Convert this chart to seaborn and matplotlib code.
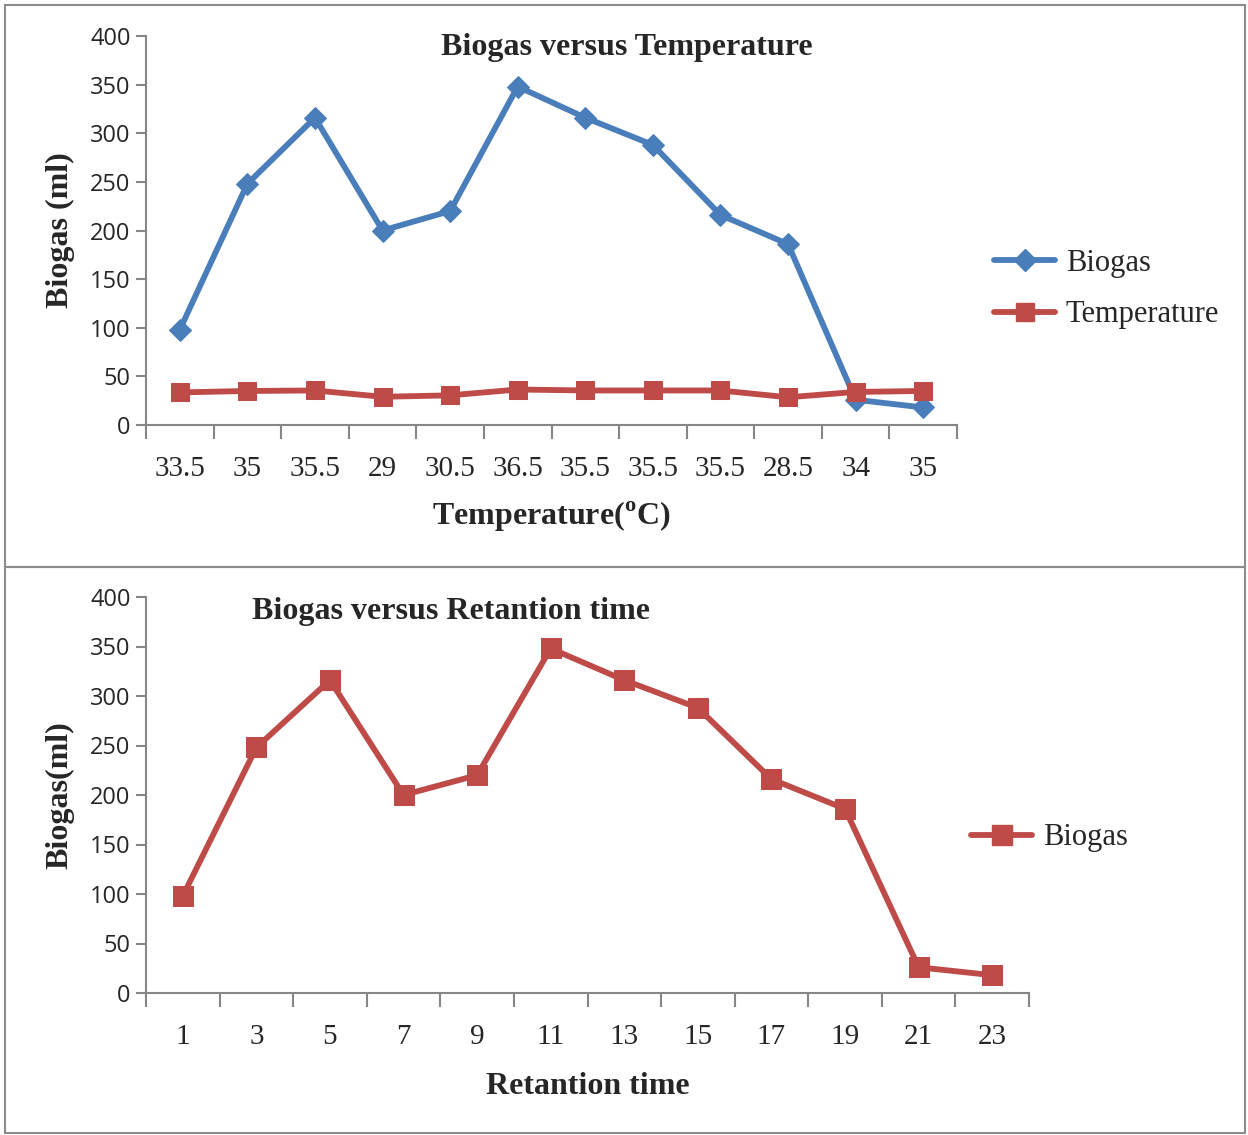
import matplotlib
matplotlib.use("Agg")
import matplotlib.pyplot as plt
import seaborn as sns
import pandas as pd
import numpy as np
from matplotlib.patches import Rectangle
from matplotlib.lines import Line2D

temperature_labels = ["33.5", "35", "35.5", "29", "30.5", "36.5", "35.5", "35.5", "35.5", "28.5", "34", "35"]
temperature_values = [33.5, 35, 35.5, 29, 30.5, 36.5, 35.5, 35.5, 35.5, 28.5, 34, 35]
biogas_values = [98, 248, 316, 200, 220, 348, 316, 288, 216, 186, 26, 18]
retention_labels = ["1", "3", "5", "7", "9", "11", "13", "15", "17", "19", "21", "23"]

sns.set_theme(style="white")
plt.rcParams['font.family'] = ['Liberation Serif', 'DejaVu Serif']
plt.rcParams['mathtext.fontset'] = 'custom'
plt.rcParams['mathtext.rm'] = 'Liberation Serif'
plt.rcParams['mathtext.bf'] = 'Liberation Serif:bold'

W, H = 1248, 1135
fig = plt.figure(figsize=(W / 100, H / 100), dpi=100)

BLUE = "#4A7EBB"
RED = "#BE4B48"
SPINE = "#868686"
LW = 4.2

def px(x0, y0, x1, y1):
    return [x0 / W, 1 - y1 / H, (x1 - x0) / W, (y1 - y0) / H]

# panel frames
for (y0, y1) in [(5, 567), (567, 1133)]:
    fig.patches.append(Rectangle((5 / W, 1 - y1 / H), 1240 / W, (y1 - y0) / H,
                                 transform=fig.transFigure, fill=False,
                                 edgecolor="#8c8c8c", linewidth=1.5))

def style_axes(ax, n):
    ax.set_xlim(-0.5, n - 0.5)
    ax.set_ylim(0, 400)
    ax.set_yticks(range(0, 401, 50))
    ax.set_xticks(np.arange(n))
    ax.set_xticks(np.arange(-0.5, n), minor=True)
    for s in ["top", "right"]:
        ax.spines[s].set_visible(False)
    for s in ["left", "bottom"]:
        ax.spines[s].set_color(SPINE)
        ax.spines[s].set_linewidth(1.5)
    ax.tick_params(axis="y", which="major", left=True, length=7, width=1.5,
                   color=SPINE, labelsize=17, pad=4)
    ax.tick_params(axis="x", which="major", bottom=False, labelsize=21, pad=16)
    ax.tick_params(axis="x", which="minor", bottom=True, length=10, width=1.5,
                   color=SPINE)
    for lab in ax.get_yticklabels():
        lab.set_fontfamily(["Open Sans", "DejaVu Sans"])
    ax.grid(False)

# ---- top chart ----
ax1 = fig.add_axes(px(146, 36, 957, 425))
df1 = pd.DataFrame({"idx": np.arange(12), "Biogas": biogas_values,
                    "Temperature": temperature_values})
sns.lineplot(data=df1, x="idx", y="Biogas", ax=ax1, color=BLUE, linewidth=LW,
             marker="D", markersize=11, markeredgecolor=BLUE, clip_on=False)
sns.lineplot(data=df1, x="idx", y="Temperature", ax=ax1, color=RED, linewidth=LW,
             marker="s", markersize=13, markeredgecolor=RED, clip_on=False)
style_axes(ax1, 12)
ax1.set_xticklabels(temperature_labels)
ax1.set_xlabel("")
ax1.set_ylabel("")
fig.text(551 / W, 1 - 517 / H, r"Temperature($^{\mathbf{o}}$C)", fontsize=23,
         fontweight="bold", ha="center", va="center")
fig.text(60 / W, 1 - 230 / H, "Biogas (ml)", fontsize=23, fontweight="bold",
         rotation=90, ha="center", va="center")
fig.text(627 / W, 1 - 48 / H, "Biogas versus Temperature", fontsize=23,
         fontweight="bold", ha="center", va="center")
h1 = [Line2D([], [], color=BLUE, lw=LW, marker="D", ms=11),
      Line2D([], [], color=RED, lw=LW, marker="s", ms=13)]
fig.legend(h1, ["Biogas", "Temperature"], loc="center left",
           bbox_to_anchor=(994 / W, 1 - 289 / H), frameon=False, fontsize=22,
           handlelength=2.0, labelspacing=0.75, handletextpad=0.35,
           borderaxespad=0, borderpad=0)

# ---- bottom chart ----
ax2 = fig.add_axes(px(146, 597, 1029, 993))
df2 = pd.DataFrame({"idx": np.arange(12), "Biogas": biogas_values})
sns.lineplot(data=df2, x="idx", y="Biogas", ax=ax2, color=RED, linewidth=LW,
             marker="s", markersize=14, markeredgecolor=RED, clip_on=False)
style_axes(ax2, 12)
ax2.set_xticklabels(retention_labels)
ax2.set_xlabel("")
ax2.set_ylabel("")
fig.text(588 / W, 1 - 1086 / H, "Retantion time", fontsize=23, fontweight="bold",
         ha="center", va="center")
fig.text(60 / W, 1 - 795 / H, "Biogas(ml)", fontsize=23, fontweight="bold",
         rotation=90, ha="center", va="center")
fig.text(451 / W, 1 - 611 / H, "Biogas versus Retantion time", fontsize=23,
         fontweight="bold", ha="center", va="center")
h2 = [Line2D([], [], color=RED, lw=LW, marker="s", ms=14)]
fig.legend(h2, ["Biogas"], loc="center left",
           bbox_to_anchor=(971 / W, 1 - 838 / H), frameon=False, fontsize=22,
           handlelength=2.0, handletextpad=0.35, borderaxespad=0, borderpad=0)

fig.savefig("out.png", dpi=100)
